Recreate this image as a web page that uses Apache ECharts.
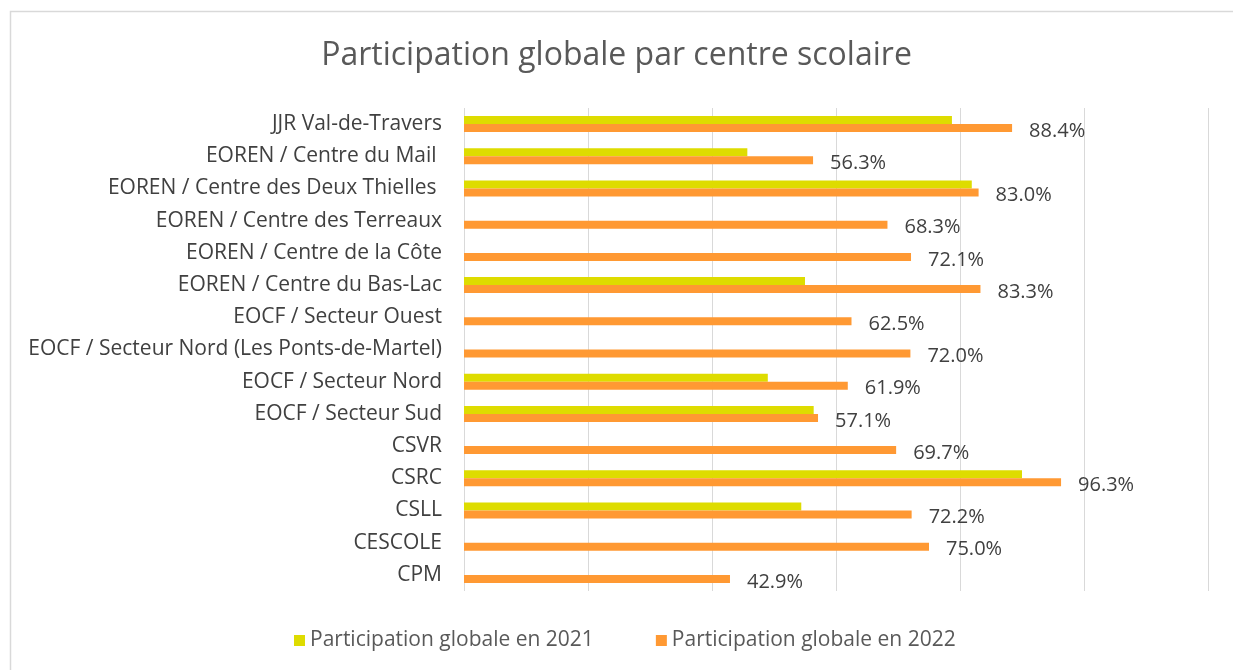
<!DOCTYPE html>
<html>
<head>
<meta charset="utf-8">
<script src="https://cdn.jsdelivr.net/npm/echarts@6/dist/echarts.min.js"></script>
<style>
  html, body { margin: 0; padding: 0; background: #fff; }
  #chart { width: 1233px; height: 670px; }
</style>
</head>
<body>
<div id="chart"></div>
<script>
// Data (top to bottom)
const centres = [
  'JJR Val-de-Travers',
  'EOREN / Centre du Mail ',
  'EOREN / Centre des Deux Thielles ',
  'EOREN / Centre des Terreaux',
  'EOREN / Centre de la Côte',
  'EOREN / Centre du Bas-Lac',
  'EOCF / Secteur Ouest',
  'EOCF / Secteur Nord (Les Ponts-de-Martel)',
  'EOCF / Secteur Nord',
  'EOCF / Secteur Sud',
  'CSVR',
  'CSRC',
  'CSLL',
  'CESCOLE',
  'CPM'
];
const part2021 = [78.7, 45.7, 81.9, null, null, 55.0, null, null, 49.0, 56.4, null, 90.0, 54.4, null, null];
const part2022 = [88.4, 56.3, 83.0, 68.3, 72.1, 83.3, 62.5, 72.0, 61.9, 57.1, 69.7, 96.3, 72.2, 75.0, 42.9];
const seriesNames = ['Participation globale en 2021', 'Participation globale en 2022'];

const FONT = '"Open Sans", "Noto Sans", sans-serif';
const chart = echarts.init(document.getElementById('chart'), null, { renderer: 'canvas' });

chart.setOption({
  animation: false,
  textStyle: { fontFamily: FONT },
  graphic: [{
    type: 'rect', left: 8, top: 9, silent: true,
    shape: { width: 1240, height: 680 },
    style: { fill: 'none', stroke: '#d9d9d9', lineWidth: 1.5 }
  }],
  title: {
    text: 'Participation globale par centre scolaire',
    left: 'center', top: 35,
    textStyle: { fontFamily: FONT, fontSize: 32, fontWeight: 'normal', color: '#595959' }
  },
  legend: {
    bottom: 14, left: 289, itemGap: 62,
    itemWidth: 11, itemHeight: 11, icon: 'rect',
    textStyle: { fontFamily: FONT, fontSize: 21, color: '#595959' },
    data: seriesNames
  },
  grid: { left: 464, right: 25, top: 108, bottom: 79, containLabel: false },
  xAxis: {
    type: 'value', min: 0, max: 120, interval: 20,
    axisLabel: { show: false }, axisLine: { show: false }, axisTick: { show: false },
    splitLine: { lineStyle: { color: '#d9d9d9', width: 1 } }
  },
  yAxis: {
    type: 'category', inverse: true, data: centres,
    axisLine: { show: false }, axisTick: { show: false },
    axisLabel: { fontFamily: FONT, fontSize: 21, color: '#404040', margin: 22 }
  },
  series: [
    {
      name: seriesNames[0], type: 'bar', data: part2021,
      barWidth: 8, barGap: '0%',
      itemStyle: { color: '#dedc00' }
    },
    {
      name: seriesNames[1], type: 'bar', data: part2022,
      barWidth: 8, barGap: '0%',
      itemStyle: { color: '#ff9933' },
      label: {
        show: true, position: 'right', distance: 17, offset: [0, 3],
        fontFamily: FONT, fontSize: 20, color: '#404040',
        formatter: (p) => p.value.toFixed(1) + '%'
      }
    }
  ]
});
</script>
</body>
</html>
